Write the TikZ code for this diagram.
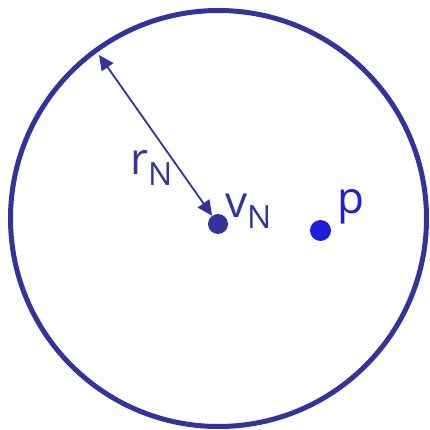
\documentclass[tikz,border=0pt]{standalone}
\usepackage{fontspec}
\setmainfont{Open Sans}
\usetikzlibrary{arrows.meta}
\definecolor{rimblue}{HTML}{333399}
\definecolor{ptblue}{HTML}{1E1ED6}
\newcommand{\subN}{\raisebox{-11pt}{\fontsize{32}{32}\selectfont N}}
\tikzset{
  dot/.style={circle, fill, inner sep=0pt, minimum size=20pt},
  lbl/.style={anchor=base west, inner sep=0pt, font=\fontsize{44}{48}\selectfont}
}
\begin{document}
\begin{tikzpicture}[x=1pt, y=-1pt]
\useasboundingbox (0,0) rectangle (429,430);
\draw[rimblue, line width=5pt] (218.5,218.5) circle (208);
\node[dot, rimblue] (vN) at (218,224) {};
\node[dot, ptblue, minimum size=21pt] (p) at (320.5,230.5) {};
\coordinate (rim) at (99,55);
\draw[rimblue, line width=1.8pt, {Triangle[length=15pt,width=14pt]}-{Triangle[length=15pt,width=14pt]}] (rim) -- (vN);
\node[lbl, rimblue] (rlabel) at (130,175) {r\subN};
\node[lbl, rimblue] (vlabel) at (225,217) {v\subN};
\node[lbl, ptblue] (plabel) at (337,213) {p};
\end{tikzpicture}
\end{document}
